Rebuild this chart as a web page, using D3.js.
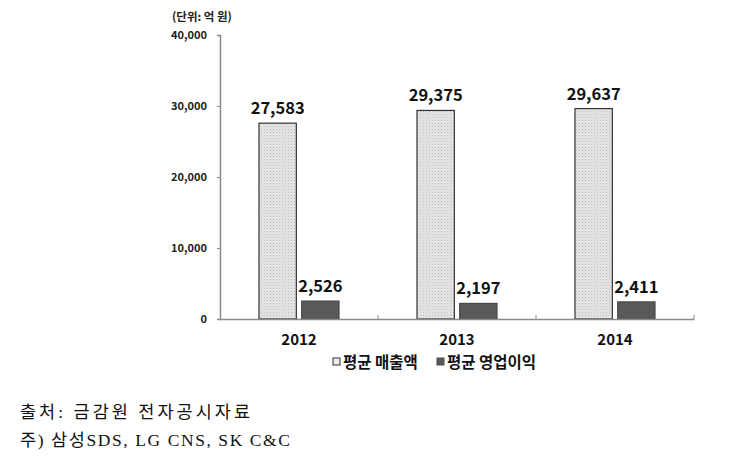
<!DOCTYPE html>
<html><head><meta charset="utf-8">
<script src="https://cdn.jsdelivr.net/npm/d3@7"></script>
<style>body{margin:0;background:#fff}svg{display:block}</style>
</head><body><svg id="c" width="729" height="472"></svg>
<script>
const categories = ["2012", "2013", "2014"];
const seriesNames = ["평균 매출액", "평균 영업이익"];
const revenue = [27583, 29375, 29637];
const profit = [2526, 2197, 2411];
const yTicks = [0, 10000, 20000, 30000, 40000];
const unitLabel = "(단위: 억 원)";
const notes = ["출처: 금감원 전자공시자료", "주) 삼성SDS, LG CNS, SK C&C"];

const svg = d3.select("#c");
const sans = "'Noto Sans CJK KR','Open Sans',sans-serif";
const defs = svg.append("defs");
const pat = defs.append("pattern").attr("id","dots").attr("patternUnits","userSpaceOnUse").attr("width",3).attr("height",3);
pat.append("rect").attr("width",3).attr("height",3).attr("fill","#e6e6e6");
pat.append("rect").attr("x",0).attr("y",0).attr("width",1).attr("height",1).attr("fill","#bcbcbc");
pat.append("rect").attr("x",1.5).attr("y",1.5).attr("width",1).attr("height",1).attr("fill","#cccccc");

const x0 = d3.scaleBand().domain(categories).range([220, 694]);
const x1 = d3.scaleBand().domain([0,1]).range([0, 80]).paddingInner(0.125);
const y = d3.scaleLinear().domain([0, 40000]).range([319, 35]);

// y axis
const yAxis = d3.axisLeft(y).tickValues(yTicks).tickSize(3).tickFormat(d3.format(","));
const ya = svg.append("g").attr("transform","translate(220,0)").call(yAxis);
ya.select(".domain").attr("stroke","#8a8a8a").attr("stroke-width",1.5);
ya.selectAll(".tick line").attr("stroke","#8a8a8a");
ya.selectAll(".tick text").attr("x",-13).attr("font-family",sans).attr("font-size",11).attr("fill","#222").attr("font-weight","bold");

svg.append("text").attr("x",172).attr("y",21).attr("font-family",sans).attr("font-size",11.5).attr("font-weight","bold").attr("fill","#222").text(unitLabel);

// bars
const data = categories.map((c,i)=>({c, vals:[revenue[i], profit[i]]}));
const g = svg.append("g");
data.forEach(d=>{
  const off = x0(d.c) + (x0.bandwidth()-80)/2;
  d.vals.forEach((v,j)=>{
    const bx = off + x1(j);
    g.append("rect").attr("x",bx).attr("y",y(v)).attr("width",x1.bandwidth()).attr("height",y(0)-y(v))
      .attr("fill", j===0 ? "url(#dots)" : "#595959")
      .attr("stroke", j===0 ? "#333" : "#4a4a4a").attr("stroke-width",1.2);
    g.append("text").attr("x",bx+x1.bandwidth()/2).attr("y",y(v)-9).attr("text-anchor","middle")
      .attr("font-family",sans).attr("font-size",16.5).attr("font-weight","bold").attr("fill","#111")
      .text(d3.format(",")(v));
  });
});

// x axis
const xa = svg.append("g").attr("transform","translate(0,319)").call(d3.axisBottom(x0).tickSize(0).tickPadding(15));
xa.select(".domain").attr("stroke","#8a8a8a").attr("stroke-width",1.5);
xa.selectAll(".tick text").attr("font-family",sans).attr("font-size",15).attr("font-weight","bold").attr("fill","#111");
categories.slice(1).concat(["end"]).forEach((c,i)=>{
  const xx = c==="end" ? 694 : x0(c);
  svg.append("line").attr("x1",xx).attr("x2",xx).attr("y1",315).attr("y2",319).attr("stroke","#8a8a8a");
});

// legend
const leg = [{x:333, w:81, name:seriesNames[0], fill:"#eee", stroke:"#333"},{x:437, w:93, name:seriesNames[1], fill:"#595959", stroke:"#4a4a4a"}];
leg.forEach(l=>{
  svg.append("rect").attr("x",l.x).attr("y",358).attr("width",7).attr("height",7).attr("fill",l.fill).attr("stroke",l.stroke);
  svg.append("text").attr("x",l.x+10).attr("y",368).attr("font-family",sans).attr("font-size",15.5).attr("font-weight","bold").attr("fill","#111").text(l.name);
});

// notes
const noteW = [230, 270];
notes.forEach((n,i)=>{
  svg.append("text").attr("x",20).attr("y",418+i*28).attr("font-family","'Liberation Serif','DejaVu Serif','Noto Sans CJK KR',serif")
    .attr("font-size",17.5).attr("fill","#111").attr("textLength",noteW[i]).attr("lengthAdjust","spacing").text(n);
});
</script></body></html>
